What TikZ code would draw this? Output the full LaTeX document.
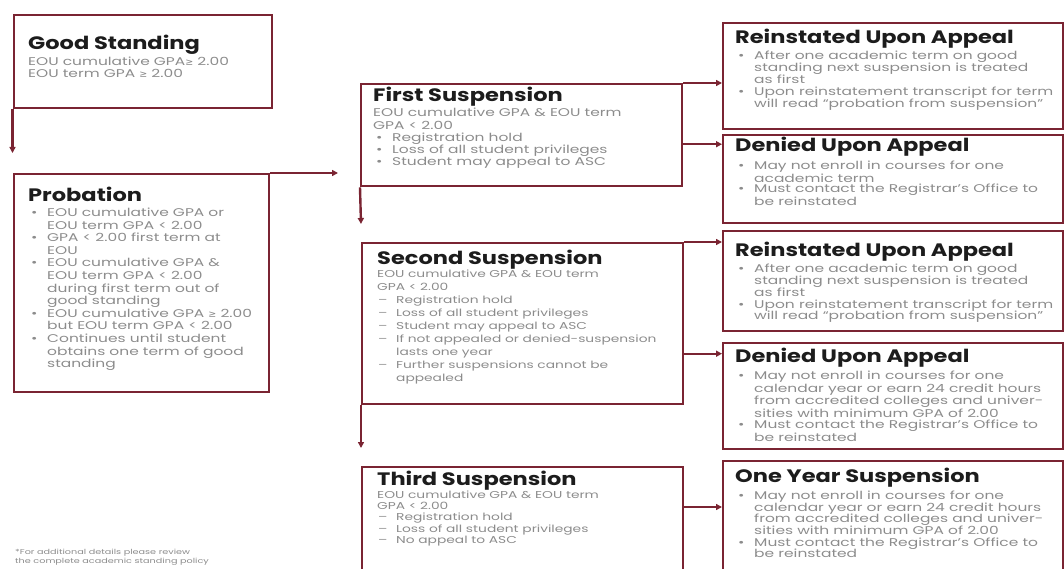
\documentclass[tikz,border=0pt]{standalone}
\usepackage{fontspec}
\setmainfont{Poppins}[FakeStretch=1.38]
\newfontfamily\headfam{Poppins}[FakeStretch=1.25]
\newfontfamily\symfam{DejaVu Sans}[Scale=0.85]
\usetikzlibrary{arrows.meta,positioning}
\definecolor{boxred}{RGB}{122,36,50}
\definecolor{bodygray}{RGB}{140,140,140}
\definecolor{headblack}{RGB}{28,28,28}
\newcommand{\itm}{\hspace*{3pt}\makebox[16pt][l]{\textbullet}}
\newcommand{\dsh}{\hspace*{1pt}\makebox[18pt][l]{--}}
\newcommand{\cnt}{\hspace*{19pt}}
\newcommand{\geqsym}{{\symfam ≥}}
\tikzset{
  box/.style={draw=boxred, line width=2.4pt, anchor=north west, inner sep=0pt},
  head/.style={font=\headfam\bfseries\fontsize{18}{20}\selectfont, text=headblack, anchor=base west, inner sep=0pt},
  body/.style={font=\fontsize{11.2}{#1}\selectfont, text=bodygray, anchor=north west, inner sep=0pt, align=left},
  body/.default=12,
  smallbody/.style={body=#1, font=\fontsize{10}{#1}\selectfont},
  foot/.style={font=\fontsize{7}{8.5}\selectfont, text=bodygray, anchor=north west, inner sep=0pt, align=left},
  link/.style={draw=boxred, line width=2.4pt, -{Triangle[length=6pt,width=6pt]}}
}
\begin{document}
\begin{tikzpicture}[x=1pt,y=-1pt]
\useasboundingbox (0,0) rectangle (1064,569);
\clip (0,0) rectangle (1064,569);
% left column
\node[box, minimum width=258pt, minimum height=93pt] (gs) at (12.5,14) {};
\node[head] (gshead) at (28,50) {Good Standing};
\node[body=11.6] (gstext) at (28,57) {EOU cumulative GPA\geqsym{} 2.00\\EOU term GPA \geqsym{} 2.00};
\node[box, minimum width=255pt, minimum height=218pt] (pr) at (12.5,173) {};
\node[head] (prhead) at (28,202) {Probation};
\node[body=12.6] (prtext) at (28,207.8) {\itm EOU cumulative GPA or\\ \cnt EOU term GPA < 2.00\\
\itm GPA < 2.00 first term at\\ \cnt EOU\\
\itm EOU cumulative GPA \&\\ \cnt EOU term GPA < 2.00\\ \cnt during first term out of\\ \cnt good standing\\
\itm EOU cumulative GPA \geqsym{} 2.00\\ \cnt but EOU term GPA < 2.00\\
\itm Continues until student\\ \cnt obtains one term of good\\ \cnt standing};
\node[foot] (note) at (15,549) {*For additional details please review\\the complete academic standing policy};
% middle column
\node[box, minimum width=321pt, minimum height=102pt] (fs) at (360,83) {};
\node[head] (fshead) at (373,102) {First Suspension};
\node[body=12.3] (fstext) at (373,108) {EOU cumulative GPA \& EOU term\\GPA < 2.00\\
\itm Registration hold\\ \itm Loss of all student privileges\\ \itm Student may appeal to ASC};
\node[box, minimum width=321pt, minimum height=161pt] (ss) at (361,242) {};
\node[head] (sshead) at (377,264) {Second Suspension};
\node[smallbody=13] (sstext) at (377,270) {EOU cumulative GPA \& EOU term\\GPA < 2.00\\
\dsh Registration hold\\ \dsh Loss of all student privileges\\ \dsh Student may appeal to ASC\\
\dsh If not appealed or denied-suspension\\ \cnt lasts one year\\
\dsh Further suspensions cannot be\\ \cnt appealed};
\node[box, minimum width=321pt, minimum height=130pt] (ts) at (361,466) {};
\node[head] (tshead) at (377,485) {Third Suspension};
\node[smallbody=11.3] (tstext) at (377,490.5) {EOU cumulative GPA \& EOU term\\GPA < 2.00\\
\dsh Registration hold\\ \dsh Loss of all student privileges\\ \dsh No appeal to ASC};
% right column
\node[box, minimum width=340pt, minimum height=106pt] (raone) at (722,22) {};
\node[head] (raonehead) at (735,44) {Reinstated Upon Appeal};
\node[body=11.9] (raonetext) at (735,51) {\itm After one academic term on good\\ \cnt standing next suspension is treated\\ \cnt as first\\
\itm Upon reinstatement transcript for term\\ \cnt will read “probation from suspension”};
\node[box, minimum width=340pt, minimum height=88pt] (daone) at (722,134) {};
\node[head] (daonehead) at (735,152) {Denied Upon Appeal};
\node[body=10.8] (daonetext) at (735,161) {\itm May not enroll in courses for one\\ \cnt academic term\\
\itm Must contact the Registrar’s Office to\\ \cnt be reinstated};
\node[box, minimum width=340pt, minimum height=100pt] (ratwo) at (722,230) {};
\node[head] (ratwohead) at (735,256) {Reinstated Upon Appeal};
\node[body=11.8] (ratwotext) at (735,264) {\itm After one academic term on good\\ \cnt standing next suspension is treated\\ \cnt as first\\
\itm Upon reinstatement transcript for term\\ \cnt will read “probation from suspension”};
\node[box, minimum width=340pt, minimum height=106pt] (datwo) at (722,342) {};
\node[head] (datwohead) at (735,362) {Denied Upon Appeal};
\node[body=11.4] (datwotext) at (735,371) {\itm May not enroll in courses for one\\ \cnt calendar year or earn 24 credit hours\\ \cnt from accredited colleges and univer-\\ \cnt sities with minimum GPA of 2.00\\
\itm Must contact the Registrar’s Office to\\ \cnt be reinstated};
\node[box, minimum width=340pt, minimum height=130pt] (oy) at (722,460) {};
\node[head] (oyhead) at (735,482) {One Year Suspension};
\node[body=11.6] (oytext) at (735,491) {\itm May not enroll in courses for one\\ \cnt calendar year or earn 24 credit hours\\ \cnt from accredited colleges and univer-\\ \cnt sities with minimum GPA of 2.00\\
\itm Must contact the Registrar’s Office to\\ \cnt be reinstated};
% connectors
\coordinate (prend) at ([xshift=-22pt]pr.north east -| fs.west);
\draw[link] (gs.south west) -- ([yshift=20pt]pr.north west);
\draw[link] (pr.north east) -- (prend);
\draw[link] (fs.south west) -- ([yshift=18pt]ss.north west);
\draw[link] (ss.south west) -- ([yshift=18pt]ts.north west);
\draw[link] (fs.north east) -- (fs.north east -| raone.west);
\draw[link] ([yshift=-9pt]fs.east) -- ([yshift=-9pt]fs.east -| daone.west);
\draw[link] (ss.north east) -- (ss.north east -| ratwo.west);
\draw[link] ([yshift=-30pt]ss.east) -- ([yshift=-30pt]ss.east -| datwo.west);
\draw[link] ([yshift=-41pt]ts.north east) -- ([yshift=-41pt]ts.north east -| oy.west);
\end{tikzpicture}
\end{document}
